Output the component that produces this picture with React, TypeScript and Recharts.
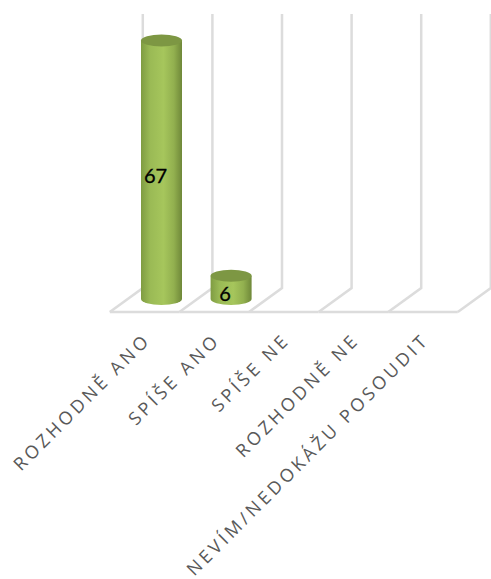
import { BarChart, Bar, XAxis, YAxis, LabelList, CartesianGrid } from 'recharts'

const CATEGORIES = ['ROZHODNĚ ANO', 'SPÍŠE ANO', 'SPÍŠE NE', 'ROZHODNĚ NE', 'NEVÍM/NEDOKÁŽU POSOUDIT']
const VALUES = [67, 6, null, null, null]

const data = CATEGORIES.map((name, i) => ({ name, value: VALUES[i] }))

const GRID = '#dcdcdc'
const WALL_TOP = 14
const WALL_BOTTOM = 288
const FLOOR = 312
const BAND = 69.6

// 3D-looking floor and back wall, one section per category, behind the bars
function WallLine({ x1, index }: any) {
  const back = x1 - 19
  const isLast = index === CATEGORIES.length - 1
  return (
    <g>
      <polyline
        points={`${back},${WALL_TOP} ${back},${WALL_BOTTOM} ${back - 33},${FLOOR}`}
        fill="none"
        stroke={GRID}
        strokeWidth={2.5}
      />
      <line x1={back - 33} y1={FLOOR} x2={back - 33 + BAND} y2={FLOOR} stroke={GRID} strokeWidth={2.5} />
      {isLast && (
        <polyline
          points={`${back + BAND},${WALL_TOP} ${back + BAND},${WALL_BOTTOM} ${back + BAND - 33},${FLOOR}`}
          fill="none"
          stroke={GRID}
          strokeWidth={2.5}
        />
      )}
    </g>
  )
}

function SlantedTick({ x, payload }: any) {
  return (
    <text
      x={x - 10}
      y={341}
      transform={`rotate(-45 ${x - 10} 341)`}
      textAnchor="end"
      fill="#595959"
      fontFamily="Open Sans"
      fontSize={18}
      letterSpacing={3.5}
    >
      {payload.value}
    </text>
  )
}

function Cylinder({ x, y, width, height }: any) {
  if (!height) return null
  const rx = width / 2
  const ry = 6
  return (
    <g>
      <path
        d={`M${x},${y} L${x},${y + height} A${rx},${ry} 0 0 0 ${x + width},${y + height} L${x + width},${y} Z`}
        fill="url(#cylinderSide)"
      />
      <ellipse cx={x + rx} cy={y} rx={rx} ry={ry} fill="#7d9743" />
    </g>
  )
}

export default function App() {
  return (
    <div style={{ position: 'absolute', left: 0, top: 0 }}>
      <BarChart
        width={491}
        height={579}
        data={data}
        margin={{ top: 29, right: 16, bottom: 250, left: 127 }}
      >
        <defs>
          <linearGradient id="cylinderSide" x1="0" y1="0" x2="1" y2="0">
            <stop offset="0%" stopColor="#7f9c42" />
            <stop offset="22%" stopColor="#9aba55" />
            <stop offset="55%" stopColor="#a6c65c" />
            <stop offset="80%" stopColor="#92b04f" />
            <stop offset="100%" stopColor="#6f8839" />
          </linearGradient>
        </defs>
        <CartesianGrid horizontal={false} syncWithTicks vertical={(props: any) => <WallLine key={props.index} {...props} />} />
        <XAxis
          dataKey="name"
          height={30}
          interval={0}
          axisLine={false}
          tickLine={false}
          tick={<SlantedTick />}
        />
        <YAxis hide width={0} domain={[0, 70]} />
        <Bar dataKey="value" barSize={41} shape={<Cylinder />} isAnimationActive={false}>
          <LabelList
            dataKey="value"
            position="center"
            dx={-6}
            dy={6}
            fill="#000000"
            stroke="#000000"
            strokeWidth={0.3}
            fontFamily="Lato"
            fontSize={20}
          />
        </Bar>
      </BarChart>
    </div>
  )
}
